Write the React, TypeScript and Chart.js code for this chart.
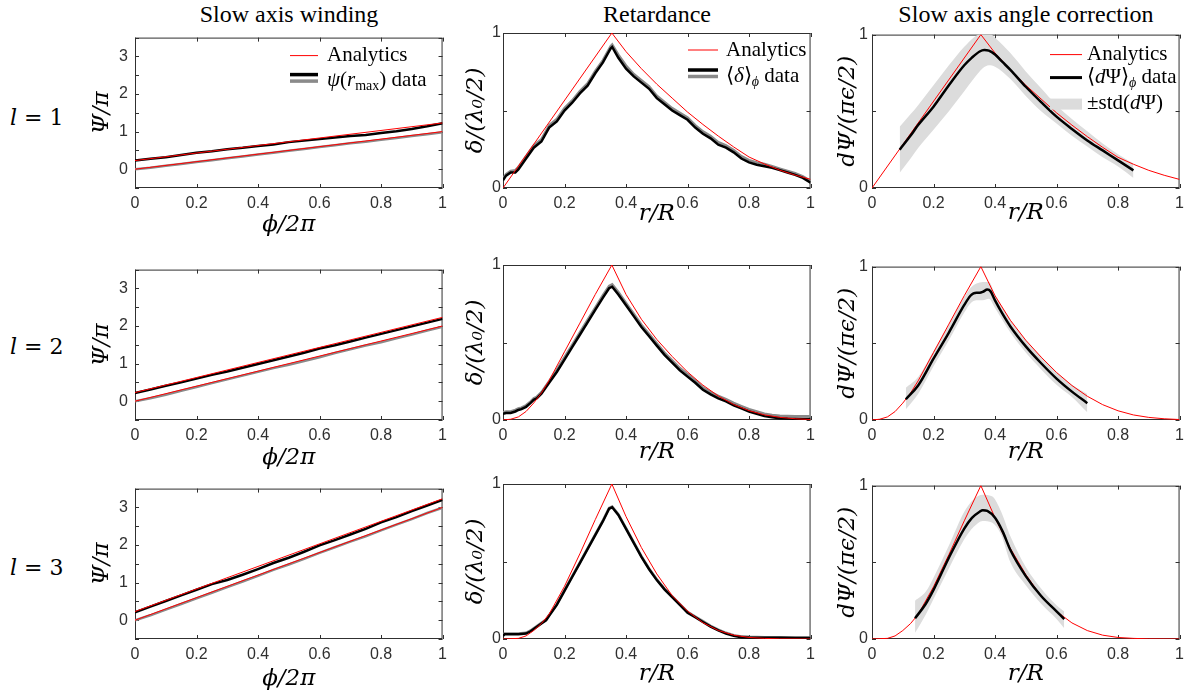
import React, { useEffect, useRef } from 'react';
import { Chart, registerables } from 'chart.js';
Chart.register(...registerables);

// ---------------- data ----------------
// Column 1: slow axis winding, x = phi/2pi
const PHI_X = [0, 0.05, 0.1, 0.15, 0.2, 0.25, 0.3, 0.35, 0.4, 0.45, 0.5, 0.55, 0.6, 0.65, 0.7, 0.75, 0.8, 0.85, 0.9, 0.95, 1];
const WIND1_BLACK = [0.23, 0.28, 0.32, 0.38, 0.44, 0.48, 0.53, 0.57, 0.62, 0.66, 0.72, 0.76, 0.80, 0.84, 0.88, 0.91, 0.96, 1.01, 1.07, 1.14, 1.22];
const WIND1_GRAY = [0, 0.04, 0.09, 0.14, 0.19, 0.24, 0.29, 0.34, 0.39, 0.44, 0.49, 0.54, 0.59, 0.64, 0.69, 0.73, 0.78, 0.83, 0.88, 0.93, 0.98];
const WIND2_BLACK = [0.22, 0.31, 0.41, 0.50, 0.60, 0.70, 0.79, 0.89, 0.99, 1.09, 1.19, 1.29, 1.40, 1.49, 1.59, 1.69, 1.79, 1.89, 1.99, 2.09, 2.19];
const WIND2_GRAY = [0.0, 0.08, 0.17, 0.28, 0.38, 0.48, 0.58, 0.68, 0.78, 0.88, 0.97, 1.07, 1.17, 1.28, 1.38, 1.48, 1.57, 1.67, 1.77, 1.88, 1.98];
const WIND3_BLACK = [0.21, 0.36, 0.51, 0.66, 0.81, 0.96, 1.07, 1.21, 1.36, 1.52, 1.66, 1.82, 1.99, 2.13, 2.28, 2.43, 2.60, 2.74, 2.90, 3.05, 3.20];
const WIND3_GRAY = [0, 0.13, 0.28, 0.43, 0.58, 0.73, 0.88, 1.03, 1.18, 1.34, 1.48, 1.63, 1.79, 1.94, 2.09, 2.23, 2.39, 2.54, 2.69, 2.85, 2.99];
const WIND_AN_X = [0, 1];
const WIND1_AN_UP = [0.23, 1.23];
const WIND1_AN_LO = [0, 1];
const WIND2_AN_UP = [0.23, 2.23];
const WIND2_AN_LO = [0, 2];
const WIND3_AN_UP = [0.23, 3.23];
const WIND3_AN_LO = [0, 3];

// Analytics for columns 2 and 3, x = r/R
const AN1_X = [0, 0.354, 0.4, 0.45, 0.5, 0.55, 0.6, 0.65, 0.7, 0.75, 0.8, 0.85, 0.9, 0.95, 1];
const AN1_Y = [0, 1, 0.88, 0.77, 0.67, 0.58, 0.49, 0.41, 0.335, 0.265, 0.20, 0.155, 0.115, 0.083, 0.056];
const AN2_X = [0, 0.025, 0.05, 0.075, 0.1, 0.125, 0.15, 0.2, 0.25, 0.3, 0.354, 0.4, 0.45, 0.5, 0.55, 0.6, 0.65, 0.7, 0.75, 0.8, 0.85, 0.9, 0.95, 1];
const AN2_Y = [0, 0.005, 0.02, 0.055, 0.11, 0.175, 0.255, 0.44, 0.625, 0.81, 1, 0.81, 0.65, 0.52, 0.41, 0.31, 0.225, 0.155, 0.10, 0.06, 0.033, 0.017, 0.008, 0.003];
const AN3_X = [0, 0.05, 0.075, 0.1, 0.125, 0.15, 0.2, 0.25, 0.3, 0.354, 0.4, 0.45, 0.5, 0.55, 0.6, 0.65, 0.7, 0.75, 0.8, 0.85, 0.9, 1];
const AN3_Y = [0, 0.004, 0.02, 0.055, 0.10, 0.16, 0.34, 0.55, 0.77, 1, 0.79, 0.59, 0.42, 0.28, 0.18, 0.105, 0.055, 0.025, 0.01, 0.004, 0.001, 0];

// Column 2: retardance data
const RET1_X = [0, 0.01, 0.025, 0.04, 0.05, 0.075, 0.1, 0.125, 0.15, 0.175, 0.2, 0.225, 0.25, 0.275, 0.3, 0.325, 0.35, 0.355, 0.375, 0.4, 0.425, 0.45, 0.475, 0.5, 0.525, 0.55, 0.575, 0.6, 0.625, 0.65, 0.675, 0.7, 0.725, 0.75, 0.775, 0.8, 0.825, 0.85, 0.875, 0.9, 0.925, 0.95, 0.975, 1];
const RET1_BLACK = [0.05, 0.08, 0.10, 0.10, 0.12, 0.19, 0.26, 0.30, 0.39, 0.43, 0.50, 0.55, 0.61, 0.66, 0.74, 0.81, 0.90, 0.91, 0.84, 0.77, 0.72, 0.68, 0.64, 0.58, 0.54, 0.50, 0.47, 0.44, 0.39, 0.35, 0.32, 0.28, 0.26, 0.23, 0.19, 0.165, 0.15, 0.14, 0.13, 0.115, 0.10, 0.085, 0.065, 0.035];
const RET1_GRAY = [0.06, 0.09, 0.11, 0.115, 0.135, 0.205, 0.275, 0.315, 0.405, 0.445, 0.515, 0.565, 0.625, 0.675, 0.755, 0.825, 0.915, 0.925, 0.86, 0.79, 0.735, 0.695, 0.655, 0.595, 0.555, 0.515, 0.485, 0.455, 0.405, 0.365, 0.335, 0.295, 0.275, 0.245, 0.205, 0.18, 0.165, 0.155, 0.14, 0.125, 0.11, 0.095, 0.075, 0.045];
const RET2_X = [0, 0.01, 0.025, 0.04, 0.05, 0.06, 0.075, 0.09, 0.1, 0.11, 0.125, 0.15, 0.175, 0.2, 0.225, 0.25, 0.275, 0.3, 0.325, 0.345, 0.355, 0.375, 0.4, 0.425, 0.45, 0.475, 0.5, 0.525, 0.55, 0.575, 0.6, 0.625, 0.65, 0.675, 0.7, 0.725, 0.75, 0.775, 0.8, 0.825, 0.85, 0.875, 0.9, 0.925, 0.95, 0.975, 1];
const RET2_BLACK = [0.04, 0.045, 0.045, 0.055, 0.065, 0.07, 0.085, 0.11, 0.13, 0.14, 0.17, 0.24, 0.31, 0.39, 0.47, 0.55, 0.63, 0.71, 0.79, 0.85, 0.86, 0.81, 0.74, 0.67, 0.60, 0.54, 0.48, 0.42, 0.37, 0.32, 0.28, 0.24, 0.195, 0.165, 0.14, 0.12, 0.095, 0.075, 0.055, 0.04, 0.025, 0.018, 0.012, 0.009, 0.008, 0.007, 0.006];
const RET2_GRAY = [0.05, 0.055, 0.055, 0.065, 0.075, 0.08, 0.095, 0.12, 0.14, 0.15, 0.18, 0.25, 0.325, 0.405, 0.485, 0.565, 0.645, 0.725, 0.805, 0.865, 0.875, 0.825, 0.755, 0.685, 0.615, 0.555, 0.495, 0.435, 0.385, 0.335, 0.295, 0.255, 0.21, 0.18, 0.155, 0.135, 0.11, 0.09, 0.07, 0.055, 0.04, 0.033, 0.028, 0.026, 0.025, 0.024, 0.024];
const RET3_X = [0, 0.005, 0.025, 0.05, 0.075, 0.09, 0.1, 0.125, 0.14, 0.15, 0.175, 0.2, 0.225, 0.25, 0.275, 0.3, 0.325, 0.345, 0.355, 0.375, 0.4, 0.425, 0.45, 0.475, 0.5, 0.525, 0.55, 0.575, 0.6, 0.625, 0.65, 0.675, 0.7, 0.725, 0.75, 0.775, 0.8, 0.85, 0.9, 0.95, 1];
const RET3_BLACK = [0.02, 0.03, 0.03, 0.03, 0.035, 0.05, 0.065, 0.10, 0.12, 0.15, 0.22, 0.31, 0.40, 0.49, 0.58, 0.67, 0.76, 0.84, 0.85, 0.80, 0.71, 0.62, 0.53, 0.45, 0.38, 0.32, 0.27, 0.22, 0.17, 0.14, 0.11, 0.08, 0.055, 0.035, 0.02, 0.012, 0.009, 0.008, 0.008, 0.007, 0.006];
const RET3_GRAY = [0.025, 0.035, 0.035, 0.035, 0.04, 0.055, 0.07, 0.105, 0.125, 0.155, 0.225, 0.315, 0.405, 0.495, 0.585, 0.675, 0.765, 0.845, 0.855, 0.805, 0.715, 0.625, 0.535, 0.455, 0.385, 0.325, 0.275, 0.225, 0.175, 0.145, 0.115, 0.085, 0.06, 0.04, 0.025, 0.017, 0.014, 0.012, 0.011, 0.01, 0.009];

// Column 3: slow axis angle correction
const COR1_X = [0.09, 0.125, 0.15, 0.2, 0.25, 0.3, 0.325, 0.35, 0.365, 0.38, 0.4, 0.425, 0.45, 0.5, 0.55, 0.6, 0.65, 0.7, 0.75, 0.8, 0.85];
const COR1_MEAN = [0.25, 0.34, 0.41, 0.53, 0.67, 0.80, 0.85, 0.89, 0.90, 0.895, 0.87, 0.82, 0.77, 0.66, 0.56, 0.465, 0.385, 0.31, 0.245, 0.18, 0.115];
const COR1_BX = [0.09, 0.125, 0.15, 0.2, 0.25, 0.3, 0.33, 0.36, 0.38, 0.4, 0.45, 0.5, 0.55, 0.6, 0.65, 0.7, 0.75, 0.8, 0.85];
const COR1_HI = [0.40, 0.48, 0.54, 0.67, 0.80, 0.92, 0.98, 1.01, 1.01, 0.98, 0.88, 0.76, 0.65, 0.54, 0.45, 0.37, 0.29, 0.22, 0.16];
const COR1_LO = [0.10, 0.19, 0.26, 0.38, 0.50, 0.63, 0.71, 0.78, 0.80, 0.79, 0.71, 0.60, 0.50, 0.42, 0.34, 0.27, 0.20, 0.14, 0.065];
const COR2_X = [0.11, 0.15, 0.2, 0.25, 0.3, 0.32, 0.33, 0.34, 0.35, 0.36, 0.375, 0.385, 0.4, 0.425, 0.45, 0.5, 0.55, 0.6, 0.65, 0.7];
const COR2_MEAN = [0.135, 0.225, 0.40, 0.57, 0.75, 0.81, 0.825, 0.83, 0.83, 0.835, 0.85, 0.84, 0.78, 0.69, 0.61, 0.48, 0.37, 0.27, 0.185, 0.11];
const COR2_BX = [0.11, 0.15, 0.2, 0.25, 0.3, 0.32, 0.34, 0.36, 0.38, 0.4, 0.45, 0.5, 0.55, 0.6, 0.65, 0.7];
const COR2_HI = [0.21, 0.28, 0.45, 0.62, 0.80, 0.86, 0.89, 0.90, 0.90, 0.82, 0.65, 0.52, 0.41, 0.31, 0.23, 0.17];
const COR2_LO = [0.07, 0.17, 0.35, 0.52, 0.70, 0.76, 0.78, 0.78, 0.79, 0.73, 0.57, 0.44, 0.33, 0.23, 0.15, 0.05];
const COR3_X = [0.14, 0.175, 0.2, 0.25, 0.3, 0.325, 0.35, 0.36, 0.375, 0.4, 0.425, 0.45, 0.5, 0.55, 0.6, 0.625];
const COR3_MEAN = [0.135, 0.23, 0.32, 0.53, 0.72, 0.79, 0.83, 0.84, 0.835, 0.79, 0.70, 0.58, 0.41, 0.28, 0.18, 0.13];
const COR3_BX = [0.14, 0.175, 0.2, 0.25, 0.3, 0.33, 0.36, 0.39, 0.42, 0.45, 0.5, 0.55, 0.6, 0.625];
const COR3_HI = [0.25, 0.31, 0.40, 0.61, 0.83, 0.91, 0.94, 0.93, 0.83, 0.67, 0.47, 0.33, 0.22, 0.18];
const COR3_LO = [0.04, 0.16, 0.26, 0.46, 0.65, 0.73, 0.77, 0.76, 0.68, 0.50, 0.35, 0.23, 0.13, 0.07];

// labels
const COL_TITLES = ['Slow axis winding', 'Retardance', 'Slow axis angle correction'];
const ROW_L = ['1', '2', '3'];
const Y_TITLES = ['Ψ/π', 'δ/(λ₀/2)', 'dΨ/(πϵ/2)'];
const X_TITLES = ['ϕ/2π', 'r/R', 'r/R'];

// ---------------- layout / style ----------------
const PLOT_LEFT = [135, 503, 872];
const PLOT_TOP = [33, 265, 484];
const PLOT_W = 308;
const PLOT_H = 155;
const Y_AXIS_W = 80;
const X_AXIS_H = 60;
const PAD_TOP = 12;
const PAD_RIGHT = 10;
const CW = Y_AXIS_W + PLOT_W + PAD_RIGHT;
const CH = PAD_TOP + PLOT_H + X_AXIS_H;
const Y_TITLE_CENTER = [102, 476, 848];
const X_TITLE_OFFSET = [[37.5, 26, 25], [38, 32, 32], [40, 35, 35]];
const Y_TICK_PAD = [7, 2, 4];

const RED = '#ff0000';
const BLACK = '#000000';
const GRAY = '#8a8a8a';
const BAND = '#dcdcdc';
const AXIS_COLOR = '#303030';
const SERIF = "'Liberation Serif', 'Times New Roman', serif";
const MATH = "'DejaVu Serif', 'Liberation Serif', serif";
const SANS = "'Liberation Sans', Arial, sans-serif";

const pts = (xs: number[], ys: number[]) => xs.map((x, i) => ({ x, y: ys[i] }));

type Run = { t: string; it?: boolean; sub?: boolean };
type LegItem = { sample: 'red' | 'pair' | 'black' | 'band'; sy: number; ty: number; runs: Run[] };

const LEGENDS: { sx0: number; sx1: number; tx: number; items: LegItem[] }[] = [
  {
    sx0: 155, sx1: 183, tx: 192,
    items: [
      { sample: 'red', sy: 18, ty: 18, runs: [{ t: 'Analytics' }] },
      { sample: 'pair', sy: 37, ty: 43, runs: [{ t: 'ψ', it: true }, { t: '(' }, { t: 'r', it: true }, { t: 'max', sub: true }, { t: ') data' }] },
    ],
  },
  {
    sx0: 185, sx1: 215, tx: 223,
    items: [
      { sample: 'red', sy: 17, ty: 17, runs: [{ t: 'Analytics' }] },
      { sample: 'pair', sy: 37, ty: 43, runs: [{ t: '⟨' }, { t: 'δ', it: true }, { t: '⟩' }, { t: 'ϕ', it: true, sub: true }, { t: ' data' }] },
    ],
  },
  {
    sx0: 178, sx1: 210, tx: 215,
    items: [
      { sample: 'red', sy: 20, ty: 20, runs: [{ t: 'Analytics' }] },
      { sample: 'black', sy: 43, ty: 43, runs: [{ t: '⟨' }, { t: 'd', it: true }, { t: 'Ψ' }, { t: '⟩' }, { t: 'ϕ', it: true, sub: true }, { t: ' data' }] },
      { sample: 'band', sy: 69.5, ty: 69, runs: [{ t: '±std(' }, { t: 'd', it: true }, { t: 'Ψ)' }] },
    ],
  },
];

function framePlugin() {
  return {
    id: 'frame',
    beforeDatasetsDraw(chart: any) {
      const { ctx, chartArea: a, scales } = chart;
      ctx.save();
      ctx.strokeStyle = AXIS_COLOR;
      ctx.lineWidth = 1;
      ctx.strokeRect(a.left + 0.5, a.top + 0.5, a.right - a.left - 1, a.bottom - a.top - 1);
      const L = 4;
      ctx.beginPath();
      for (const t of scales.x.ticks) {
        const px = Math.round(scales.x.getPixelForValue(t.value)) + 0.5;
        ctx.moveTo(px, a.bottom);
        ctx.lineTo(px, a.bottom - L);
        ctx.moveTo(px, a.top);
        ctx.lineTo(px, a.top + L);
      }
      for (const t of scales.y.ticks) {
        const py = Math.round(scales.y.getPixelForValue(t.value)) + 0.5;
        ctx.moveTo(a.left, py);
        ctx.lineTo(a.left + L, py);
        ctx.moveTo(a.right, py);
        ctx.lineTo(a.right - L, py);
      }
      ctx.stroke();
      ctx.restore();
    },
  };
}

function legendPlugin(spec: { sx0: number; sx1: number; tx: number; items: LegItem[] }) {
  return {
    id: 'mlegend',
    afterDatasetsDraw(chart: any) {
      const { ctx, chartArea: a } = chart;
      ctx.save();
      const x0 = a.left + spec.sx0;
      const x1 = a.left + spec.sx1;
      const seg = (color: string, w: number, y: number) => {
        ctx.strokeStyle = color;
        ctx.lineWidth = w;
        ctx.beginPath();
        ctx.moveTo(x0, y);
        ctx.lineTo(x1, y);
        ctx.stroke();
      };
      for (const it of spec.items) {
        const sy = a.top + it.sy;
        if (it.sample === 'red') seg(RED, 1, sy);
        else if (it.sample === 'pair') {
          seg(BLACK, 3.5, sy);
          seg(GRAY, 3.5, sy + 6.5);
        } else if (it.sample === 'black') seg(BLACK, 3, sy);
        else {
          ctx.fillStyle = BAND;
          ctx.fillRect(x0, sy - 5.5, x1 - x0, 11);
        }
        let x = a.left + spec.tx;
        const y = a.top + it.ty;
        ctx.fillStyle = '#000';
        ctx.textBaseline = 'middle';
        ctx.textAlign = 'left';
        for (const r of it.runs) {
          ctx.font = `${r.it ? 'italic ' : ''}${r.sub ? 14 : 21}px ${SERIF}`;
          ctx.fillText(r.t, x, r.sub ? y + 6 : y);
          x += ctx.measureText(r.t).width;
        }
      }
      ctx.restore();
    },
  };
}

const lineDs = (data: any[], color: string, width: number, order: number, extra: any = {}) => ({
  data,
  borderColor: color,
  backgroundColor: color,
  borderWidth: width,
  pointRadius: 0,
  fill: false,
  tension: 0,
  order,
  ...extra,
});

function datasetsFor(row: number, col: number) {
  if (col === 0) {
    const black = [WIND1_BLACK, WIND2_BLACK, WIND3_BLACK][row];
    const gray = [WIND1_GRAY, WIND2_GRAY, WIND3_GRAY][row];
    const up = [WIND1_AN_UP, WIND2_AN_UP, WIND3_AN_UP][row];
    const lo = [WIND1_AN_LO, WIND2_AN_LO, WIND3_AN_LO][row];
    return [
      lineDs(pts(WIND_AN_X, up), RED, 1, 1),
      lineDs(pts(WIND_AN_X, lo), RED, 1, 1),
      lineDs(pts(PHI_X, black), BLACK, 2.5, 2),
      lineDs(pts(PHI_X, gray), GRAY, 2.5, 2),
    ];
  }
  const anX = [AN1_X, AN2_X, AN3_X][row];
  const anY = [AN1_Y, AN2_Y, AN3_Y][row];
  if (col === 1) {
    const xs = [RET1_X, RET2_X, RET3_X][row];
    const black = [RET1_BLACK, RET2_BLACK, RET3_BLACK][row];
    const gray = [RET1_GRAY, RET2_GRAY, RET3_GRAY][row];
    return [
      lineDs(pts(anX, anY), RED, 1, 1),
      lineDs(pts(xs, black), BLACK, 2.5, 2),
      lineDs(pts(xs, gray), GRAY, 2.5, 3),
    ];
  }
  const xs = [COR1_X, COR2_X, COR3_X][row];
  const mean = [COR1_MEAN, COR2_MEAN, COR3_MEAN][row];
  const bx = [COR1_BX, COR2_BX, COR3_BX][row];
  const hi = [COR1_HI, COR2_HI, COR3_HI][row];
  const lo = [COR1_LO, COR2_LO, COR3_LO][row];
  return [
    lineDs(pts(bx, hi), BAND, 0, 5, { fill: '+1', backgroundColor: BAND, cubicInterpolationMode: 'monotone' }),
    lineDs(pts(bx, lo), BAND, 0, 5, { cubicInterpolationMode: 'monotone' }),
    lineDs(pts(anX, anY), RED, 1, 2),
    lineDs(pts(xs, mean), BLACK, 2.5, 1, { cubicInterpolationMode: 'monotone' }),
  ];
}

function buildConfig(row: number, col: number): any {
  const canvasLeft = PLOT_LEFT[col] - Y_AXIS_W;
  const axisFont = { family: MATH, style: 'italic' as const, size: 23, lineHeight: 1.2 };
  const half = (23 * 1.2) / 2;
  const yTitlePad = Y_TITLE_CENTER[col] - canvasLeft - half;
  const xTitlePad = X_AXIS_H - half - X_TITLE_OFFSET[row][col];
  const isWind = col === 0;
  const plugins: any[] = [framePlugin()];
  if (row === 0) plugins.push(legendPlugin(LEGENDS[col]));
  return {
    type: 'line',
    data: { datasets: datasetsFor(row, col) },
    plugins,
    options: {
      responsive: false,
      animation: false,
      events: [],
      layout: { padding: { top: PAD_TOP, right: PAD_RIGHT, left: 0, bottom: 0 } },
      plugins: { legend: { display: false }, tooltip: { enabled: false } },
      scales: {
        x: {
          type: 'linear',
          min: 0,
          max: 1,
          afterFit: (s: any) => { s.height = X_AXIS_H; },
          grid: { display: false, drawTicks: false },
          border: { display: false },
          ticks: {
            stepSize: 0.2,
            autoSkip: false,
            maxRotation: 0,
            padding: 6,
            color: AXIS_COLOR,
            font: { family: SANS, size: 16 },
            callback: (v: number) => String(Math.round(v * 10) / 10),
          },
          title: {
            display: true,
            text: X_TITLES[col],
            color: '#000',
            font: axisFont,
            padding: { top: 0, bottom: xTitlePad },
          },
        },
        y: {
          type: 'linear',
          min: isWind ? -0.5 : 0,
          max: isWind ? 3.5 : 1,
          afterFit: (s: any) => { s.width = Y_AXIS_W; },
          grid: { display: false, drawTicks: false },
          border: { display: false },
          ticks: {
            stepSize: 0.5,
            autoSkip: false,
            padding: Y_TICK_PAD[col],
            color: AXIS_COLOR,
            font: { family: SANS, size: 16 },
            callback: (v: number) => (Math.abs(v - Math.round(v)) < 1e-6 ? String(Math.round(v)) : ''),
          },
          title: {
            display: true,
            text: Y_TITLES[col],
            color: '#000',
            font: axisFont,
            padding: { top: yTitlePad, bottom: 0 },
          },
        },
      },
    },
  };
}

const PANELS: { row: number; col: number }[] = [];
for (let r = 0; r < 3; r++) for (let c = 0; c < 3; c++) PANELS.push({ row: r, col: c });

export default function App() {
  const refs = useRef<(HTMLCanvasElement | null)[]>([]);
  useEffect(() => {
    const charts = PANELS.map((p, i) => new Chart(refs.current[i] as HTMLCanvasElement, buildConfig(p.row, p.col)));
    return () => charts.forEach((c) => c.destroy());
  }, []);
  const rowCenters = [118, 347, 568];
  return (
    <div style={{ position: 'fixed', left: 0, top: 0, width: 1193, height: 695, background: '#fff', overflow: 'hidden' }}>
      {COL_TITLES.map((t, c) => {
        const center = PLOT_LEFT[c] + PLOT_W / 2;
        return (
          <div
            key={'t' + c}
            style={{ position: 'absolute', left: center - 250, width: 500, top: 1, textAlign: 'center', fontFamily: SERIF, fontSize: 24, lineHeight: '26px', color: '#000', whiteSpace: 'nowrap' }}
          >
            {t}
          </div>
        );
      })}
      {ROW_L.map((n, r) => (
        <div
          key={'r' + r}
          style={{ position: 'absolute', left: 10, top: rowCenters[r] - 15, fontFamily: MATH, fontSize: 22, lineHeight: '30px', color: '#000', whiteSpace: 'pre' }}
        >
          <i>l</i>
          {' = ' + n}
        </div>
      ))}
      {PANELS.map((p, i) => (
        <canvas
          key={i}
          ref={(el) => { refs.current[i] = el; }}
          width={CW}
          height={CH}
          style={{ position: 'absolute', left: PLOT_LEFT[p.col] - Y_AXIS_W, top: PLOT_TOP[p.row] - PAD_TOP, width: CW, height: CH }}
        />
      ))}
    </div>
  );
}
